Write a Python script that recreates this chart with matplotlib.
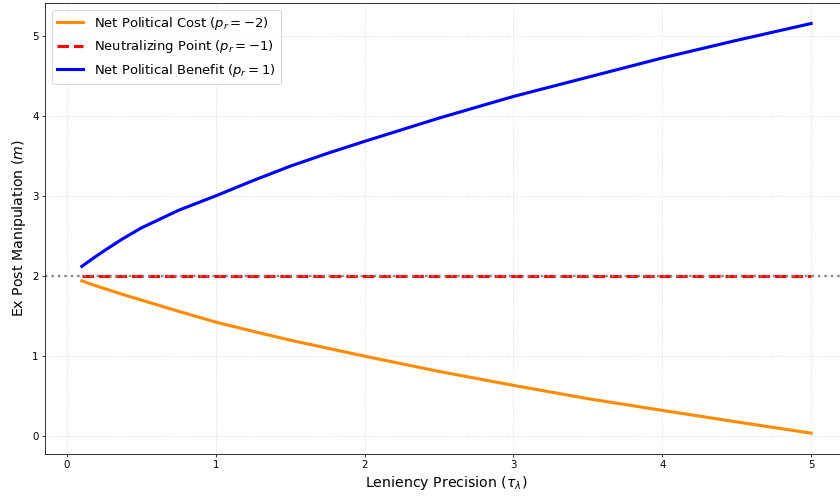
import numpy as np
import matplotlib
matplotlib.use('Agg')
import matplotlib.pyplot as plt

# leniency precision grid and manipulation levels per regime
tau = [0.1, 0.175, 0.25, 0.375, 0.5, 0.75, 1.0, 1.25, 1.5, 1.75, 2.0, 2.5, 3.0, 3.5, 4.0, 4.5, 5.0]
m_benefit = [2.12, 2.22, 2.315, 2.465, 2.60, 2.82, 3.00, 3.19, 3.37, 3.53, 3.68, 3.97, 4.24, 4.48, 4.72, 4.94, 5.15]
m_cost = [1.94, 1.89, 1.845, 1.77, 1.70, 1.56, 1.425, 1.31, 1.20, 1.10, 1.00, 0.81, 0.636, 0.47, 0.324, 0.18, 0.04]
m_neutral = [2.0] * len(tau)
baseline = 2.0

fig = plt.figure(figsize=(12, 7.1), dpi=70)
ax = fig.add_axes([0.054, 0.0873, 0.955, 0.9066])

ax.plot(tau, m_cost, color='darkorange', lw=3.2, label=r'Net Political Cost ($p_r = -2$)')
ax.plot(tau, m_neutral, color='red', lw=3.2, ls='--', label=r'Neutralizing Point ($p_r = -1$)')
ax.plot(tau, m_benefit, color='blue', lw=3.2, label=r'Net Political Benefit ($p_r = 1$)')
ax.axhline(baseline, color='gray', ls=':', lw=2.5, alpha=0.9)

ax.set_xlabel(r'Leniency Precision ($\tau_\lambda$)', fontsize=14.5)
ax.set_ylabel(r'Ex Post Manipulation ($m$)', fontsize=14.5)
ax.set_xticks(range(6))
ax.set_yticks(range(6))
ax.tick_params(labelsize=10.5)
ax.grid(True, ls=':', alpha=0.6)
ax.legend(loc='upper left', fontsize=13.5)

fig.savefig('out.png', dpi=70)
